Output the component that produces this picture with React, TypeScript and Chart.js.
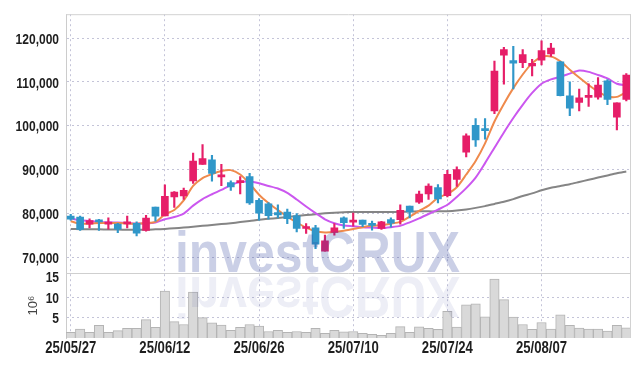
import React, { useEffect, useRef } from 'react';
import { Chart, registerables } from 'chart.js';
Chart.register(...registerables);

const dates = [
  '25/05/27', '25/05/28', '25/05/29', '25/05/30', '25/06/02', '25/06/04', '25/06/05', '25/06/09', '25/06/10', '25/06/11',
  '25/06/12', '25/06/13', '25/06/16', '25/06/17', '25/06/18', '25/06/19', '25/06/20', '25/06/23', '25/06/24', '25/06/25',
  '25/06/26', '25/06/27', '25/06/30', '25/07/01', '25/07/02', '25/07/03', '25/07/04', '25/07/07', '25/07/08', '25/07/09',
  '25/07/10', '25/07/11', '25/07/14', '25/07/15', '25/07/16', '25/07/17', '25/07/18', '25/07/21', '25/07/22', '25/07/23',
  '25/07/24', '25/07/25', '25/07/28', '25/07/29', '25/07/30', '25/07/31', '25/08/01', '25/08/04', '25/08/05', '25/08/06',
  '25/08/07', '25/08/08', '25/08/11', '25/08/12', '25/08/13', '25/08/14', '25/08/18', '25/08/19', '25/08/20', '25/08/21',
];

const openP = [
  79400, 79200, 77600, 78550, 77600, 77600, 77650, 77800, 76150, 81500,
  79450, 83800, 84000, 87450, 91200, 92250, 88350, 87050, 87050, 88450,
  83000, 82200, 80200, 80350, 79500, 76600, 76750, 71400, 75700, 79000,
  78050, 78500, 77800, 76600, 78600, 78600, 81700, 82600, 84450, 85950,
  84100, 87800, 94000, 100100, 99400, 103400, 116100, 114900, 114400, 113650,
  114950, 116400, 114600, 106850, 105350, 106500, 106550, 110250, 102000, 106000,
];
const highP = [
  79800, 79450, 78800, 78700, 79050, 77750, 79400, 78100, 79600, 81500,
  86550, 85000, 85800, 93800, 95700, 93250, 91200, 87450, 88450, 89200,
  83400, 82500, 82000, 81000, 80000, 77700, 77300, 75100, 77700, 79250,
  80100, 78500, 78300, 78250, 79000, 82000, 81700, 85100, 86750, 86600,
  89850, 90650, 98150, 101650, 101650, 114750, 117900, 118100, 117400, 115150,
  119400, 118800, 114700, 110050, 108400, 109550, 111000, 110550, 105250, 111900,
];
const lowP = [
  78500, 76150, 76700, 76150, 76450, 75650, 76750, 74900, 76000, 78250,
  79450, 81400, 83200, 86900, 91200, 87400, 86350, 85300, 84500, 82100,
  78500, 78700, 79000, 77700, 75800, 75500, 72000, 71400, 75100, 76600,
  77100, 77000, 76200, 76400, 76900, 77600, 79000, 82300, 83200, 82450,
  83800, 86200, 92900, 95300, 96950, 102800, 109500, 108400, 113250, 111400,
  113900, 115800, 106800, 102300, 103400, 104450, 106100, 104850, 99050, 105700,
];
const closeP = [
  78700, 76400, 78400, 78100, 78050, 76450, 78100, 75550, 78950, 79400,
  83950, 84900, 85300, 91950, 92550, 89150, 88700, 86100, 87500, 82450,
  80100, 79500, 79700, 78850, 76600, 77000, 73000, 73800, 76750, 77900,
  78350, 77500, 77300, 78100, 77800, 80750, 80350, 84450, 86250, 83350,
  88950, 90050, 97700, 96800, 98900, 112500, 117400, 114300, 116250, 114250,
  117150, 117750, 106900, 104000, 106400, 106750, 109300, 106000, 105250, 111550,
];

const maShort = [
  78250, 77700, 77700, 77850, 77850, 77850, 77750, 77700, 77850, 78100,
  79800, 80800, 83000, 86300, 88100, 89000, 89700, 89900, 88900, 86800,
  84300, 82400, 80800, 79300, 78000, 76800, 76000, 75700, 75800, 76100,
  76500, 76900, 77200, 77400, 77700, 78100, 79300, 80600, 81800, 83600,
  84500, 86000, 88900, 92000, 96000, 101000, 105000, 108600, 111700, 114300,
  115700, 115800, 114700, 112800, 111000, 109300, 107800, 106700, 106600, 107700,
];
const maMid = [
  78900, 78500, 78300, 78100, 78000, 77950, 77850, 77750, 77750, 77950,
  78700, 79200, 80000, 81800, 83300, 84400, 85400, 86500, 87200, 87300,
  86900, 86300, 85700, 84700, 83200, 81600, 80100, 78700, 77800, 77300,
  77100, 76900, 76800, 76700, 76900, 77200, 78000, 78900, 79900, 80900,
  82000, 83800, 85800, 88200, 91500, 95000, 98500, 101800, 104800, 107500,
  109600, 110600, 111200, 111900, 112600, 112300, 111600, 110800, 109600, 109200,
];
const maLong = [
  76500, 76450, 76400, 76400, 76350, 76350, 76300, 76300, 76300, 76400,
  76500, 76650, 76800, 77000, 77200, 77400, 77600, 77800, 78050, 78300,
  78600, 78800, 79000, 79200, 79450, 79650, 79850, 80050, 80200, 80300,
  80350, 80350, 80350, 80350, 80350, 80400, 80450, 80500, 80500, 80500,
  80550, 80700, 80950, 81300, 81700, 82200, 82700, 83300, 84000, 84600,
  85300, 85900, 86300, 86700, 87200, 87700, 88200, 88700, 89200, 89600,
];

// volume in millions of shares
const volume = [
  1.4, 2.2, 1.4, 3.1, 1.4, 1.8, 2.35, 2.35, 4.5, 2.6,
  11.5, 4.0, 3.3, 11.25, 5.0, 3.7, 3.15, 1.9, 2.6, 3.3,
  2.9, 1.6, 1.9, 1.4, 1.6, 1.4, 2.35, 1.15, 1.9, 1.5,
  1.6, 1.15, 0.9, 0.65, 1.15, 2.8, 1.4, 2.75, 2.35, 2.1,
  6.5, 2.7, 8.1, 8.35, 5.2, 14.4, 9.4, 5.1, 3.3, 2.1,
  3.8, 2.2, 5.7, 3.1, 2.45, 2.2, 2.2, 1.7, 3.1, 2.5,
];

const priceTicks = [70000, 80000, 90000, 100000, 110000, 120000];
const volumeTicks = [5, 10, 15];
const priceMin = 66440;
const priceMax = 125450;
const volumeMax = 15.9;
const labelEvery = 10;
const watermarkText = 'investCRUX';
const volumeTitle = '10\u2076';

const UP = '#e61e68';
const DOWN = '#3097c9';
const GRID = 'rgba(165,165,195,0.65)';

// Draw tick labels in a condensed style (horizontal squeeze of Liberation Sans Bold)
const tickLabelPlugin = {
  id: 'narrowTicks',
  afterDraw(chart: any) {
    const ctx = chart.ctx as CanvasRenderingContext2D;
    ctx.save();
    ctx.fillStyle = '#1e1e1e';
    ['y', 'yv'].forEach((id) => {
      const s = chart.scales[id];
      ctx.font = 'bold 15px "Liberation Sans", Arial, sans-serif';
      ctx.textAlign = 'right';
      ctx.textBaseline = 'middle';
      s.ticks.forEach((t: any) => {
        const y = s.getPixelForValue(t.value) + 1.5;
        ctx.save();
        ctx.translate(s.right - 7, y);
        ctx.scale(0.8, 1);
        ctx.fillText(String(t.label), 0, 0);
        ctx.restore();
      });
    });
    const xs = chart.scales.x;
    ctx.font = 'bold 16px "Liberation Sans", Arial, sans-serif';
    ctx.textAlign = 'center';
    ctx.textBaseline = 'middle';
    xs.ticks.forEach((t: any) => {
      const x = xs.getPixelForValue(t.value);
      ctx.save();
      ctx.translate(x, xs.top + 11);
      ctx.scale(0.82, 1);
      ctx.fillText(String(t.label), 0, 0);
      ctx.restore();
    });
    ctx.restore();
  },
};

const watermarkPlugin = {
  id: 'watermark',
  afterDatasetsDraw(chart: any) {
    const ctx = chart.ctx as CanvasRenderingContext2D;
    ctx.save();
    ctx.font = 'bold 57px "Liberation Sans", Arial, sans-serif';
    const w = ctx.measureText(watermarkText).width;
    const sx = 285 / w;
    ctx.translate(175, 272);
    ctx.scale(sx, 1);
    ctx.textBaseline = 'alphabetic';
    ctx.fillStyle = 'rgba(50,70,160,0.26)';
    ctx.fillText(watermarkText, 0, 0);
    ctx.translate(0, 5);
    ctx.scale(1, -1);
    ctx.fillStyle = 'rgba(50,70,160,0.09)';
    ctx.fillText(watermarkText, 0, 0);
    ctx.restore();
  },
};

const framePlugin = {
  id: 'frame',
  afterDraw(chart: any) {
    const { ctx, chartArea } = chart;
    const yScale = chart.scales.y;
    ctx.save();
    ctx.lineWidth = 1;
    ctx.strokeStyle = '#d2d2d2';
    ctx.beginPath();
    ctx.moveTo(chartArea.left, chartArea.top + 0.5);
    ctx.lineTo(chartArea.right, chartArea.top + 0.5);
    ctx.moveTo(chartArea.right - 0.5, chartArea.top);
    ctx.lineTo(chartArea.right - 0.5, chartArea.bottom);
    ctx.stroke();
    ctx.strokeStyle = '#cfcfcf';
    ctx.beginPath();
    ctx.moveTo(chartArea.left, Math.round(yScale.bottom) + 0.5);
    ctx.lineTo(chartArea.right, Math.round(yScale.bottom) + 0.5);
    ctx.stroke();
    ctx.restore();
  },
};

export default function App() {
  const ref = useRef<HTMLCanvasElement>(null);
  useEffect(() => {
    const candleColors = openP.map((o, i) => (closeP[i] >= o ? UP : DOWN));
    const chart = new Chart(ref.current as HTMLCanvasElement, {
      type: 'bar',
      data: {
        labels: dates,
        datasets: [
          {
            type: 'line',
            data: maShort,
            yAxisID: 'y',
            borderColor: '#ef8a4c',
            borderWidth: 2,
            pointRadius: 0,
            tension: 0.25,
            order: 4,
          },
          {
            type: 'line',
            data: maMid,
            yAxisID: 'y',
            borderColor: '#cb57ef',
            borderWidth: 2,
            pointRadius: 0,
            tension: 0.25,
            order: 4,
          },
          {
            type: 'line',
            data: maLong,
            yAxisID: 'y',
            borderColor: '#858585',
            borderWidth: 2,
            pointRadius: 0,
            tension: 0.25,
            order: 4,
          },
          {
            type: 'bar',
            data: lowP.map((l, i) => [l, highP[i]]),
            yAxisID: 'y',
            backgroundColor: candleColors,
            barThickness: 1.5,
            grouped: false,
            order: 2,
          },
          {
            type: 'bar',
            data: openP.map((o, i) => [o, closeP[i]]),
            yAxisID: 'y',
            backgroundColor: candleColors,
            barThickness: 7,
            minBarLength: 2,
            grouped: false,
            order: 1,
          },
          {
            type: 'bar',
            data: volume,
            yAxisID: 'yv',
            backgroundColor: '#d9d9d9',
            borderColor: '#b4b4b4',
            borderWidth: 1,
            barPercentage: 1,
            categoryPercentage: 1,
            grouped: false,
            order: 5,
          },
        ] as any,
      },
      options: {
        animation: false,
        responsive: false,
        devicePixelRatio: 1,
        events: [],
        layout: { padding: { top: 9, right: 8, left: 0, bottom: 0 } },
        plugins: { legend: { display: false }, tooltip: { enabled: false } },
        scales: {
          x: {
            type: 'category',
            offset: true,
            grid: { offset: false, color: GRID, drawTicks: false },
            border: { display: false, dash: [2, 3] },
            ticks: {
              autoSkip: false,
              maxRotation: 0,
              padding: 3,
              color: 'rgba(0,0,0,0)',
              font: { size: 15 },
            },
            afterBuildTicks: (s: any) => {
              s.ticks = s.ticks.filter((t: any) => t.value % labelEvery === 0);
            },
            afterFit: (s: any) => {
              s.height = 28;
            },
          },
          y: {
            type: 'linear',
            position: 'left',
            stack: 'main',
            stackWeight: 263,
            weight: 2,
            min: priceMin,
            max: priceMax,
            grid: { color: GRID, drawTicks: false },
            border: { display: true, color: '#cccccc', dash: [2, 3] },
            ticks: {
              padding: 7,
              color: 'rgba(0,0,0,0)',
              callback: (v: any) => Number(v).toLocaleString('en-US'),
            },
            afterBuildTicks: (s: any) => {
              s.ticks = priceTicks.map((v) => ({ value: v }));
            },
            afterFit: (s: any) => {
              s.width = 66;
            },
          },
          yv: {
            type: 'linear',
            position: 'left',
            stack: 'main',
            stackWeight: 66,
            weight: 1,
            min: 0,
            max: volumeMax,
            grid: {
              color: (c: any) => (c.tick && c.tick.value === 15 ? 'rgba(0,0,0,0)' : GRID),
              drawTicks: false,
            },
            border: { display: true, color: '#cccccc', dash: [2, 3] },
            title: {
              display: true,
              text: volumeTitle,
              color: '#444',
              font: { family: '"Liberation Sans", Arial, sans-serif', size: 13 },
              padding: { top: 26, bottom: 0 },
            },
            ticks: {
              padding: 7,
              color: 'rgba(0,0,0,0)',
            },
            afterBuildTicks: (s: any) => {
              s.ticks = volumeTicks.map((v) => ({ value: v }));
            },
            afterFit: (s: any) => {
              s.width = 66;
            },
          },
        },
      } as any,
      plugins: [watermarkPlugin, framePlugin, tickLabelPlugin],
    });
    return () => chart.destroy();
  }, []);
  return (
    <div style={{ position: 'fixed', left: 0, top: 0, width: 639, height: 366, background: '#fff' }}>
      <canvas ref={ref} width={639} height={366} style={{ display: 'block' }} />
    </div>
  );
}
